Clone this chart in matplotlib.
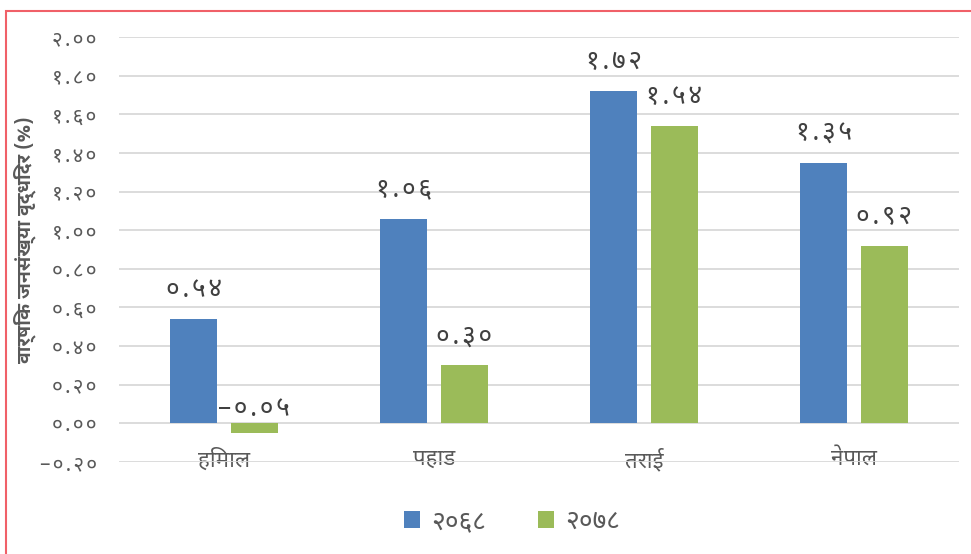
import matplotlib
matplotlib.use("Agg")
import matplotlib.pyplot as plt
import numpy as np
from matplotlib.patches import Rectangle

# Data
categories = ["हिमाल", "पहाड", "तराई", "नेपाल"]
series_names = ["२०६८", "२०७८"]
growth_2068 = [0.54, 1.06, 1.72, 1.35]
growth_2078 = [-0.05, 0.30, 1.54, 0.92]
y_ticks = [-0.2, 0.0, 0.2, 0.4, 0.6, 0.8, 1.0, 1.2, 1.4, 1.6, 1.8, 2.0]
y_label = "वार्षिक जनसंख्या वृद्धिदर (%)"

plt.rcParams['font.family'] = ['Noto Sans Devanagari', 'Noto Sans Devanagari UI', 'Mukta', 'DejaVu Sans']

DEV = str.maketrans("0123456789-", "०१२३४५६७८९–")


def dev(v, sep=""):
    return sep.join(f"{v:.2f}".translate(DEV))


blue = "#4F81BD"
green = "#9BBB59"
text_gray = "#595959"
grid_gray = "#D9D9D9"

fig = plt.figure(figsize=(9.71, 5.54), dpi=100)
W, H = 971, 554
ax = fig.add_axes([119 / W, 92 / H, (959 - 119) / W, (462 - 37) / H])

x = np.arange(len(categories))
w = 0.224
off = 0.143
b1 = ax.bar(x - off, growth_2068, w, color=blue, label=series_names[0], zorder=3)
b2 = ax.bar(x + off, growth_2078, w, color=green, label=series_names[1], zorder=3)

ax.set_xlim(-0.5, len(categories) - 0.5)
ax.set_ylim(-0.2, 2.0)
for s in ax.spines.values():
    s.set_visible(False)
ax.spines['bottom'].set_position(('data', 0))

ax.set_yticks(y_ticks)
ax.set_yticklabels([dev(t, "\u200a") for t in y_ticks], fontsize=15, color=text_gray)
ax.grid(axis='y', color=grid_gray, linewidth=1.3, zorder=0)
ax.tick_params(axis='y', length=0, pad=16)

# category labels just below the zero line
ax.set_xticks(x)
ax.set_xticklabels(categories, fontsize=16, color=text_gray)
ax.tick_params(axis='x', length=0, pad=18)

# value labels
for bars, vals in ((b1, growth_2068), (b2, growth_2078)):
    for bar, v in zip(bars, vals):
        cx = bar.get_x() + bar.get_width() / 2
        if v >= 0:
            ax.annotate(dev(v, "\u200a"), (cx, v), xytext=(0, 21), textcoords='offset points',
                        ha='center', va='center', fontsize=19, color="#404040")
        else:
            ax.annotate(dev(v, "\u200a"), (cx, 0), xytext=(0, 10), textcoords='offset points',
                        ha='center', va='center', fontsize=19, color="#404040")

fig.text(25 / W, 1 - 240 / H, y_label, rotation=90, ha='center', va='center',
         fontsize=14, fontweight='bold', color=text_gray,
         family=['Noto Sans Devanagari UI', 'Noto Sans Devanagari', 'DejaVu Sans'])

fig.legend(loc='center', bbox_to_anchor=(512 / W, 1 - 522 / H), ncol=2, frameon=False,
           fontsize=19, handlelength=0.6, handleheight=0.6, columnspacing=2.0,
           handletextpad=0.4, labelcolor=text_gray)

# red frame (only top and left edges visible in the crop)
fig.patches.append(Rectangle((6 / W, -0.1), 1.2, 1 - 11 / H + 0.1, transform=fig.transFigure,
                             fill=False, edgecolor="#F06068", linewidth=1.5))

fig.savefig("out.png", dpi=100)
